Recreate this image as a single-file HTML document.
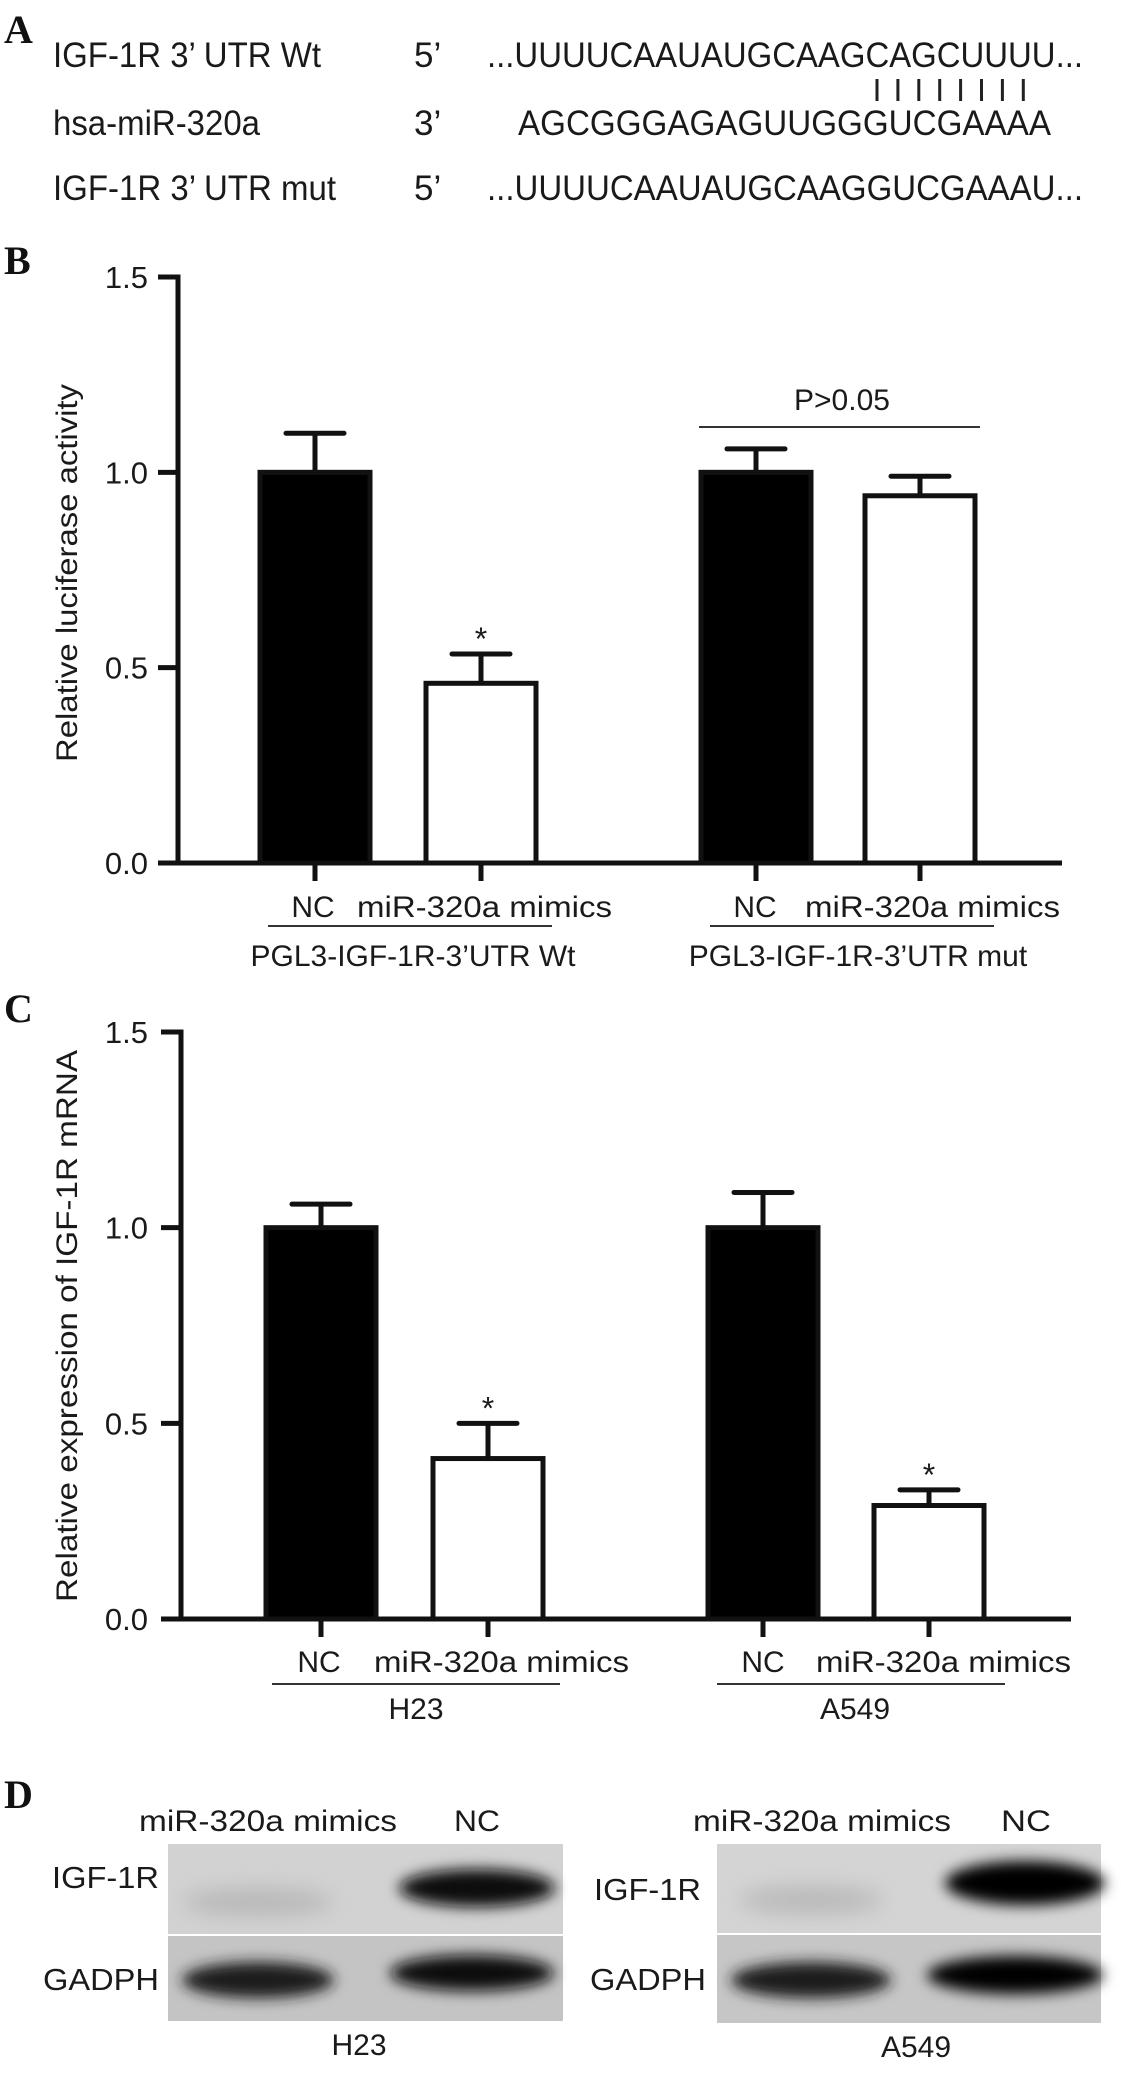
<!DOCTYPE html>
<html><head><meta charset="utf-8"><style>
html,body{margin:0;padding:0;background:#fff}
svg{display:block}
text{font-family:"Liberation Sans",Arial,sans-serif;fill:#1a1a1a}
.L{font-family:"Liberation Serif",serif;font-weight:bold;font-size:40px;fill:#111}
</style></head><body>
<svg id="fig" width="1121" height="2084" viewBox="0 0 1121 2084">
<defs>
<filter id="blur6" x="-30%" y="-80%" width="160%" height="260%"><feGaussianBlur stdDeviation="7"/></filter>
<filter id="blur10" x="-30%" y="-80%" width="160%" height="260%"><feGaussianBlur stdDeviation="10"/></filter>
</defs>
<g>
<text class="L" x="4" y="43">A</text>
<text x="53" y="67" font-size="35" textLength="268" lengthAdjust="spacingAndGlyphs">IGF-1R 3’ UTR Wt</text>
<text x="414" y="67" font-size="35">5’</text>
<text x="487" y="67" font-size="35" textLength="596" lengthAdjust="spacingAndGlyphs">...UUUUCAAUAUGCAAGCAGCUUUU...</text>
<g id="pairs" stroke="#222" stroke-width="3"></g>
<text x="53" y="135" font-size="35" textLength="207" lengthAdjust="spacingAndGlyphs">hsa-miR-320a</text>
<text x="414" y="135" font-size="35">3’</text>
<text x="518" y="135" font-size="35" textLength="533" lengthAdjust="spacingAndGlyphs">AGCGGGAGAGUUGGGUCGAAAA</text>
<text x="53" y="200" font-size="35" textLength="283" lengthAdjust="spacingAndGlyphs">IGF-1R 3’ UTR mut</text>
<text x="414" y="200" font-size="35">5’</text>
<text x="487" y="200" font-size="35" textLength="596" lengthAdjust="spacingAndGlyphs">...UUUUCAAUAUGCAAGGUCGAAAU...</text>
</g>
<text class="L" x="4" y="274">B</text>
<g id="chartB"></g>
<text class="L" x="4" y="1022">C</text>
<g id="chartC"></g>
<g>
<text class="L" x="4" y="1808">D</text>
<text x="139" y="1831" font-size="30" textLength="258" lengthAdjust="spacingAndGlyphs">miR-320a mimics</text>
<text x="454" y="1831" font-size="30" textLength="46" lengthAdjust="spacingAndGlyphs">NC</text>
<text x="693" y="1831" font-size="30" textLength="258" lengthAdjust="spacingAndGlyphs">miR-320a mimics</text>
<text x="1001" y="1831" font-size="30" textLength="50" lengthAdjust="spacingAndGlyphs">NC</text>
<g>
<rect x="168" y="1844" width="395" height="90" fill="#d2d2d2"/>
<rect x="168" y="1936" width="395" height="85" fill="#c4c4c4"/>
<ellipse cx="258" cy="1902" rx="75" ry="14" fill="#a8a8a8" filter="url(#blur10)" opacity="0.6"/>
<ellipse cx="477" cy="1888" rx="78" ry="19" fill="#0a0a0a" filter="url(#blur6)"/>
<ellipse cx="258" cy="1980" rx="76" ry="18" fill="#1a1a1a" filter="url(#blur6)"/>
<ellipse cx="472" cy="1973" rx="82" ry="18" fill="#0a0a0a" filter="url(#blur6)"/>
</g>
<g>
<rect x="717" y="1844" width="384" height="89" fill="#d4d4d4"/>
<rect x="717" y="1935" width="384" height="88" fill="#c6c6c6"/>
<ellipse cx="811" cy="1900" rx="72" ry="14" fill="#a8a8a8" filter="url(#blur10)" opacity="0.6"/>
<ellipse cx="1025" cy="1883" rx="80" ry="22" fill="#050505" filter="url(#blur6)"/>
<ellipse cx="811" cy="1980" rx="80" ry="18" fill="#1a1a1a" filter="url(#blur6)"/>
<ellipse cx="1015" cy="1975" rx="88" ry="19" fill="#050505" filter="url(#blur6)"/>
</g>
<text x="52" y="1888" font-size="31" textLength="107" lengthAdjust="spacingAndGlyphs">IGF-1R</text>
<text x="43" y="1990" font-size="31" textLength="116" lengthAdjust="spacingAndGlyphs">GADPH</text>
<text x="594" y="1900" font-size="31" textLength="107" lengthAdjust="spacingAndGlyphs">IGF-1R</text>
<text x="590" y="1990" font-size="31" textLength="116" lengthAdjust="spacingAndGlyphs">GADPH</text>
<text x="359" y="2055" font-size="30" text-anchor="middle">H23</text>
<text x="916" y="2057" font-size="30" text-anchor="middle">A549</text>
</g>
</svg>
<script>
// Panel B data
const bCategories = ["NC", "miR-320a mimics", "NC", "miR-320a mimics"];
const bValues = [1.0, 0.46, 1.0, 0.94];
const bErrors = [0.10, 0.075, 0.06, 0.05];
const bStars = [false, true, false, false];
const bGroups = ["PGL3-IGF-1R-3’UTR Wt", "PGL3-IGF-1R-3’UTR mut"];
const bTicks = ["0.0", "0.5", "1.0", "1.5"];
// Panel C data
const cCategories = ["NC", "miR-320a mimics", "NC", "miR-320a mimics"];
const cValues = [1.0, 0.41, 1.0, 0.29];
const cErrors = [0.06, 0.09, 0.09, 0.04];
const cStars = [false, true, false, true];
const cGroups = ["H23", "A549"];
const cTicks = ["0.0", "0.5", "1.0", "1.5"];

const NS = "http://www.w3.org/2000/svg";
function mk(parent, tag, attrs, txt){
  const e = document.createElementNS(NS, tag);
  for (const k in attrs) e.setAttribute(k, attrs[k]);
  if (txt !== undefined) e.textContent = txt;
  parent.appendChild(e); return e;
}

(function(){
  const g = document.getElementById('pairs');
  for (let i = 0; i < 8; i++) {
    const l = mk(g, 'line', {x1: 877 + i*20.9, x2: 877 + i*20.9, y1: 79, y2: 101});
    
    
  }
})();

function drawChart(gid, cfg, cats, vals, errs, stars, groups, ticks) {
  const g = document.getElementById(gid);
  const ys = v => cfg.y0 - (v / 1.5) * (cfg.y0 - cfg.y15);
  const xs = i => cfg.centers[i];
  const ya = mk(g, 'line', {x1: cfg.ax, x2: cfg.ax, y1: ys(1.5) - 2.5, y2: cfg.y0 + 2.5, stroke: '#111', 'stroke-width': 5});
  
  
  ticks.forEach(t => {
    const v = parseFloat(t), y = ys(v);
    const tl = mk(g, 'line', {x1: cfg.ax - 20, x2: cfg.ax, y1: y, y2: y, stroke: '#111', 'stroke-width': 5});
    
    
    const tx = mk(g, 'text', {x: 148, y: y + 11, 'font-size': 31, 'text-anchor': 'end'}, t);
    
    
  });
  const xa = mk(g, 'line', {x1: cfg.ax - 20, x2: cfg.xend, y1: cfg.y0, y2: cfg.y0, stroke: '#111', 'stroke-width': 5});
  
  
  const bw = 110;
  vals.forEach((v, i) => {
    const cx = xs(i), top = ys(v), et = ys(v + errs[i]);
    const filled = i % 2 === 0;
    const eb = mk(g, 'line', {x1: cx, x2: cx, y1: top, y2: et, stroke: '#111', 'stroke-width': 5});
    
    
    const ec = mk(g, 'line', {x1: cx - 29, x2: cx + 29, y1: et, y2: et, stroke: '#111', 'stroke-width': 5, 'stroke-linecap': 'round'});
    
    
    const r = mk(g, 'rect', {x: cx - bw/2, y: top, width: bw, height: cfg.y0 - top, fill: filled ? '#000' : '#fff', stroke: '#111', 'stroke-width': 5});
    
    
    const tk = mk(g, 'line', {x1: cx, x2: cx, y1: cfg.y0, y2: cfg.y0 + 18, stroke: '#111', 'stroke-width': 5});
    
    
    if (stars[i]) {
      const s = mk(g, 'text', {x: cx, y: et - 4, 'font-size': 32, 'text-anchor': 'middle', fill: '#333'}, '*');
      
      
    }
  });
  for (let gi = 0; gi < 2; gi++) {
    const ncx = cfg.ncLabelX[gi];
    const t1 = mk(g, 'text', {x: ncx, y: cfg.labY, 'font-size': 30, 'text-anchor': 'middle'}, cats[gi*2]);
    
    
    const t2 = mk(g, 'text', {x: cfg.mimX[gi], y: cfg.labY, 'font-size': 30, textLength: 255, lengthAdjust: 'spacingAndGlyphs'}, cats[gi*2+1]);
    
    
    const ul = mk(g, 'line', {x1: cfg.ul[gi][0], x2: cfg.ul[gi][1], y1: cfg.ulY, y2: cfg.ulY, stroke: '#333', 'stroke-width': 2});
    
    
    const gl = mk(g, 'text', {x: cfg.gX[gi], y: cfg.gY, 'font-size': 30, 'text-anchor': 'middle'}, groups[gi]);
    
    
  }
  const yl = mk(g, 'text', {x: 0, y: 0, 'font-size': 30, 'text-anchor': 'middle', transform: `translate(${cfg.ylX},${cfg.ylY}) rotate(-90)`, textLength: cfg.ylLen, lengthAdjust: 'spacingAndGlyphs'}, cfg.ylText);
  
  
}

drawChart('chartB', {
  y0: 863, y15: 277, ax: 178, xend: 1062, centers: [315, 481, 756, 920],
  ncLabelX: [313, 755], mimX: [357, 805], labY: 917,
  ul: [[268, 552], [710, 994]], ulY: 926, gX: [413, 858], gY: 966,
  ylX: 77, ylY: 573, ylLen: 378, ylText: 'Relative luciferase activity'
}, bCategories, bValues, bErrors, bStars, bGroups, bTicks);

(function(){
  const g = document.getElementById('chartB');
  const l = mk(g, 'line', {x1: 699, x2: 980, y1: 427, y2: 427, stroke: '#333', 'stroke-width': 2});
  
  
  const t = mk(g, 'text', {x: 842, y: 410, 'font-size': 30, 'text-anchor': 'middle'}, 'P>0.05');
  
  
})();

drawChart('chartC', {
  y0: 1619, y15: 1032, ax: 181, xend: 1071, centers: [321, 488, 763, 929],
  ncLabelX: [319, 763], mimX: [374, 816], labY: 1672,
  ul: [[272, 560], [717, 1005]], ulY: 1684, gX: [416, 855], gY: 1719,
  ylX: 77, ylY: 1326, ylLen: 552, ylText: 'Relative expression of IGF-1R mRNA'
}, cCategories, cValues, cErrors, cStars, cGroups, cTicks);
</script>
</body></html>
